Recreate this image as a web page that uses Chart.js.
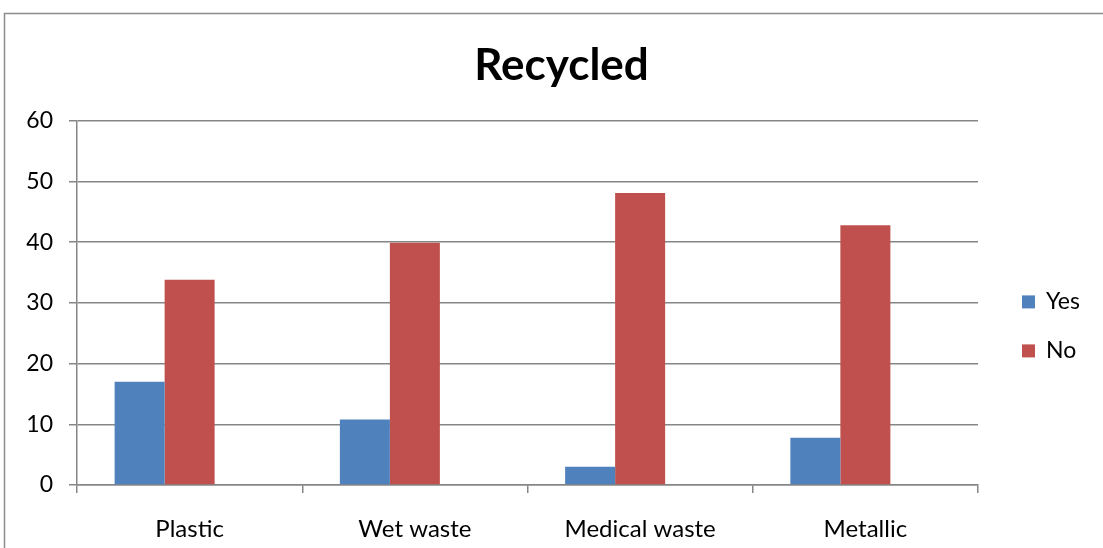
<!DOCTYPE html>
<html>
<head>
<meta charset="utf-8">
<script src="https://cdn.jsdelivr.net/npm/chart.js@4.4.1/dist/chart.umd.min.js"></script>
<style>
  html, body { margin: 0; padding: 0; background: #fff; }
  #wrap { width: 1103px; height: 548px; }
</style>
</head>
<body>
<div id="wrap"><canvas id="recycled"></canvas></div>
<script>
const categories = ['Plastic', 'Wet waste', 'Medical waste', 'Metallic'];
const yesValues = [17, 10.8, 3, 7.8];
const noValues = [33.8, 39.9, 48.1, 42.8];
// third series of the sheet is blank but still takes a slot in each group
const blankValues = [];
const yTicks = [0, 10, 20, 30, 40, 50, 60];

const gridGrey = '#868686';
const fontFamily = 'Lato, "Liberation Sans", sans-serif';
const labelSize = 23;

// thin frame around the chart, open on the right and bottom
const framePlugin = {
    id: 'frame',
    beforeDraw(chart) {
        const ctx = chart.ctx;
        ctx.save();
        ctx.strokeStyle = '#8c8c8c';
        ctx.lineWidth = 1.5;
        ctx.beginPath();
        ctx.moveTo(4.5, chart.height + 5);
        ctx.lineTo(4.5, 13.5);
        ctx.lineTo(chart.width + 5, 13.5);
        ctx.stroke();
        ctx.restore();
    }
};

// legend on the right, one row per named dataset, centred on the plot
const sideLegend = {
    id: 'sideLegend',
    afterDraw(chart) {
        const ctx = chart.ctx;
        const area = chart.chartArea;
        const x = area.right + 44;
        const firstRow = (area.top + area.bottom) / 2 - 1;
        const rowGap = 49;
        ctx.save();
        ctx.font = labelSize + 'px ' + fontFamily;
        ctx.textBaseline = 'middle';
        chart.data.datasets.filter(ds => ds.label).forEach((ds, i) => {
            const y = firstRow + i * rowGap;
            ctx.fillStyle = ds.backgroundColor;
            ctx.fillRect(x, y - 6.5, 13, 13);
            ctx.fillStyle = '#000';
            ctx.fillText(ds.label, x + 24, y);
        });
        ctx.restore();
    }
};

const ctx = document.querySelector('#recycled').getContext('2d');
const recycledChart = new Chart(ctx, {
    type: 'bar',
    data: {
        labels: categories,
        datasets: [{
            label: 'Yes',
            data: yesValues,
            backgroundColor: '#4F81BD'
        }, {
            label: 'No',
            data: noValues,
            backgroundColor: '#C0504D'
        }, {
            label: '',
            data: blankValues,
            backgroundColor: '#9BBB59'
        }]
    },
    options: {
        responsive: true,
        maintainAspectRatio: false,
        animation: false,
        layout: { padding: { left: 20, right: 0, top: 0, bottom: 4 } },
        datasets: {
            bar: { barPercentage: 1, categoryPercentage: 0.666 }
        },
        plugins: {
            title: {
                display: true,
                text: 'Recycled',
                color: '#000',
                font: { family: fontFamily, size: 44, weight: 'bold' },
                padding: { top: 39, bottom: 29 }
            },
            legend: { display: false },
            tooltip: { enabled: false }
        },
        scales: {
            x: {
                afterFit(axis) { axis.height = 59; },
                grid: {
                    offset: true,
                    drawOnChartArea: false,
                    drawTicks: true,
                    tickLength: 8,
                    color: gridGrey,
                    lineWidth: 1.5
                },
                border: { color: gridGrey, width: 1.5 },
                ticks: {
                    color: '#000',
                    font: { family: fontFamily, size: 24 },
                    padding: 22,
                    maxRotation: 0,
                    minRotation: 0
                }
            },
            y: {
                min: 0,
                max: 60,
                afterFit(axis) { axis.width = 57; },
                afterBuildTicks(axis) {
                    axis.ticks = yTicks.map(v => ({ value: v }));
                },
                grid: {
                    color: gridGrey,
                    lineWidth: 1.5,
                    tickLength: 8
                },
                border: { color: gridGrey, width: 1.5 },
                ticks: {
                    color: '#000',
                    font: { family: fontFamily, size: labelSize },
                    padding: 16
                }
            },
            // empty right-hand box that keeps room for the legend
            legendSpace: {
                position: 'right',
                afterFit(axis) { axis.width = 125; },
                grid: { display: false },
                border: { display: false },
                ticks: { display: false }
            }
        }
    },
    plugins: [framePlugin, sideLegend]
});
</script>
</body>
</html>
